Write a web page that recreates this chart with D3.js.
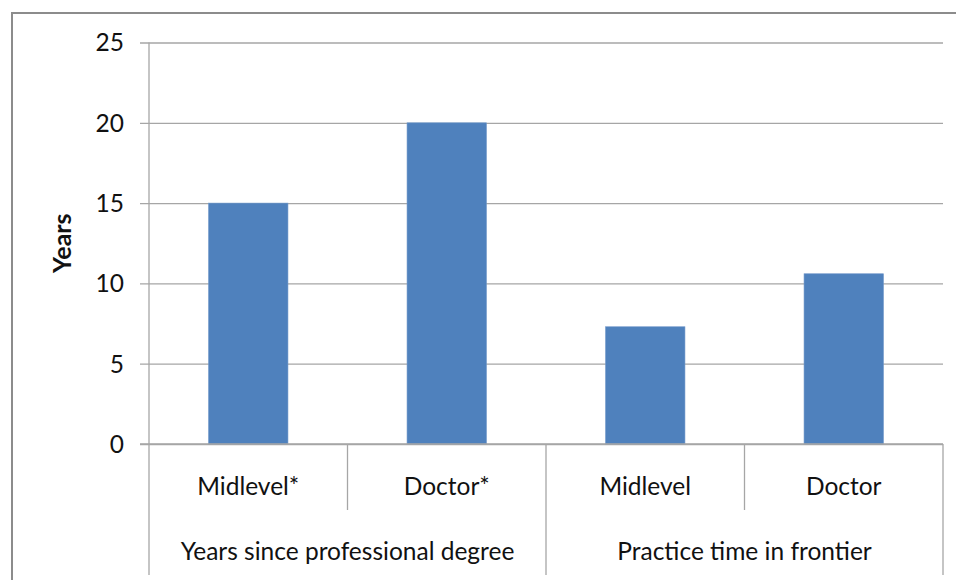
<!DOCTYPE html>
<html>
<head>
<meta charset="utf-8">
<script src="https://cdn.jsdelivr.net/npm/d3@7"></script>
<style>
  html, body { margin: 0; padding: 0; background: #fff; }
  svg { display: block; }
  text { font-family: Lato, "Open Sans", sans-serif; fill: #111; }
</style>
</head>
<body>
<script>
// Chart data
const categories = ["Midlevel*", "Doctor*", "Midlevel", "Doctor"];
const groups = ["Years since professional degree", "Practice time in frontier"];
const groupOf = [0, 0, 1, 1];
const values = [15, 20, 7.3, 10.6];
const yTicks = [0, 5, 10, 15, 20, 25];
const yTitle = "Years";

const W = 956, H = 580;
const margin = { left: 149, right: 13, top: 42.5, bottom: 136 };
const plotW = W - margin.left - margin.right;
const plotH = H - margin.top - margin.bottom;

const svg = d3.select("body").append("svg")
  .attr("width", W).attr("height", H);

// Outer frame (continues past the right and bottom edges)
svg.append("rect")
  .attr("x", 12).attr("y", 13)
  .attr("width", W + 20).attr("height", H + 20)
  .attr("fill", "none").attr("stroke", "#8c8c8c").attr("stroke-width", 2);

const g = svg.append("g").attr("transform", `translate(${margin.left},${margin.top})`);

const x = d3.scaleBand().domain(categories).range([0, plotW]).paddingInner(0.6).paddingOuter(0.3);
const xCat = d3.scaleBand().domain(categories).range([0, plotW]);
const y = d3.scaleLinear().domain([0, 25]).range([plotH, 0]);

// Gridlines and tick marks
const yAxis = d3.axisLeft(y).tickValues(yTicks).tickSize(-plotW).tickPadding(25);
const ya = g.append("g").call(yAxis);
ya.select(".domain").remove();
ya.selectAll(".tick line").attr("stroke", "#a6a6a6").attr("stroke-width", 1.3).attr("x1", -9);
ya.selectAll(".tick text").attr("font-size", 24.5).attr("font-family", "Lato, sans-serif").attr("fill", "#111").attr("dy", "0.34em");

// Bars
g.selectAll("rect.bar").data(values).enter().append("rect")
  .attr("class", "bar")
  .attr("x", (d, i) => x(categories[i]))
  .attr("width", x.bandwidth())
  .attr("y", d => y(d))
  .attr("height", d => y(0) - y(d))
  .attr("fill", "#4f81bd")
  .attr("stroke", "#6f97c9").attr("stroke-width", 0.6);

// Vertical value axis line
g.append("line").attr("x1", 0).attr("x2", 0).attr("y1", 0).attr("y2", plotH + 131)
  .attr("stroke", "#a6a6a6").attr("stroke-width", 1.3);

// Baseline
g.append("line").attr("x1", -9).attr("x2", plotW).attr("y1", plotH).attr("y2", plotH)
  .attr("stroke", "#a6a6a6").attr("stroke-width", 1.3);

// Category separators: short ones inside a group, long ones between groups
const boundaries = categories.map((c, i) => i).slice(1).concat([categories.length]);
boundaries.forEach(i => {
  const bx = i < categories.length ? xCat(categories[i]) : plotW;
  const groupEdge = i === categories.length || groupOf[i] !== groupOf[i - 1];
  g.append("line")
    .attr("x1", bx).attr("x2", bx)
    .attr("y1", plotH).attr("y2", plotH + (groupEdge ? 131 : 66))
    .attr("stroke", "#a6a6a6").attr("stroke-width", 1.3);
});

// Category labels
g.selectAll("text.cat").data(categories).enter().append("text")
  .attr("class", "cat")
  .attr("x", d => xCat(d) + xCat.bandwidth() / 2)
  .attr("y", plotH + 51)
  .attr("text-anchor", "middle")
  .attr("font-size", 24.5)
  .text(d => d);

// Group labels
groups.forEach((gname, gi) => {
  const members = categories.filter((c, i) => groupOf[i] === gi);
  const gx0 = xCat(members[0]);
  const gx1 = xCat(members[members.length - 1]) + xCat.bandwidth();
  g.append("text")
    .attr("x", (gx0 + gx1) / 2)
    .attr("y", plotH + 116)
    .attr("text-anchor", "middle")
    .attr("font-size", 24.5)
    .text(gname);
});

// Y axis title
svg.append("text")
  .attr("transform", `translate(71,${margin.top + plotH / 2}) rotate(-90)`)
  .attr("text-anchor", "middle")
  .attr("font-size", 25)
  .attr("font-weight", "bold")
  .text(yTitle);
</script>
</body>
</html>
